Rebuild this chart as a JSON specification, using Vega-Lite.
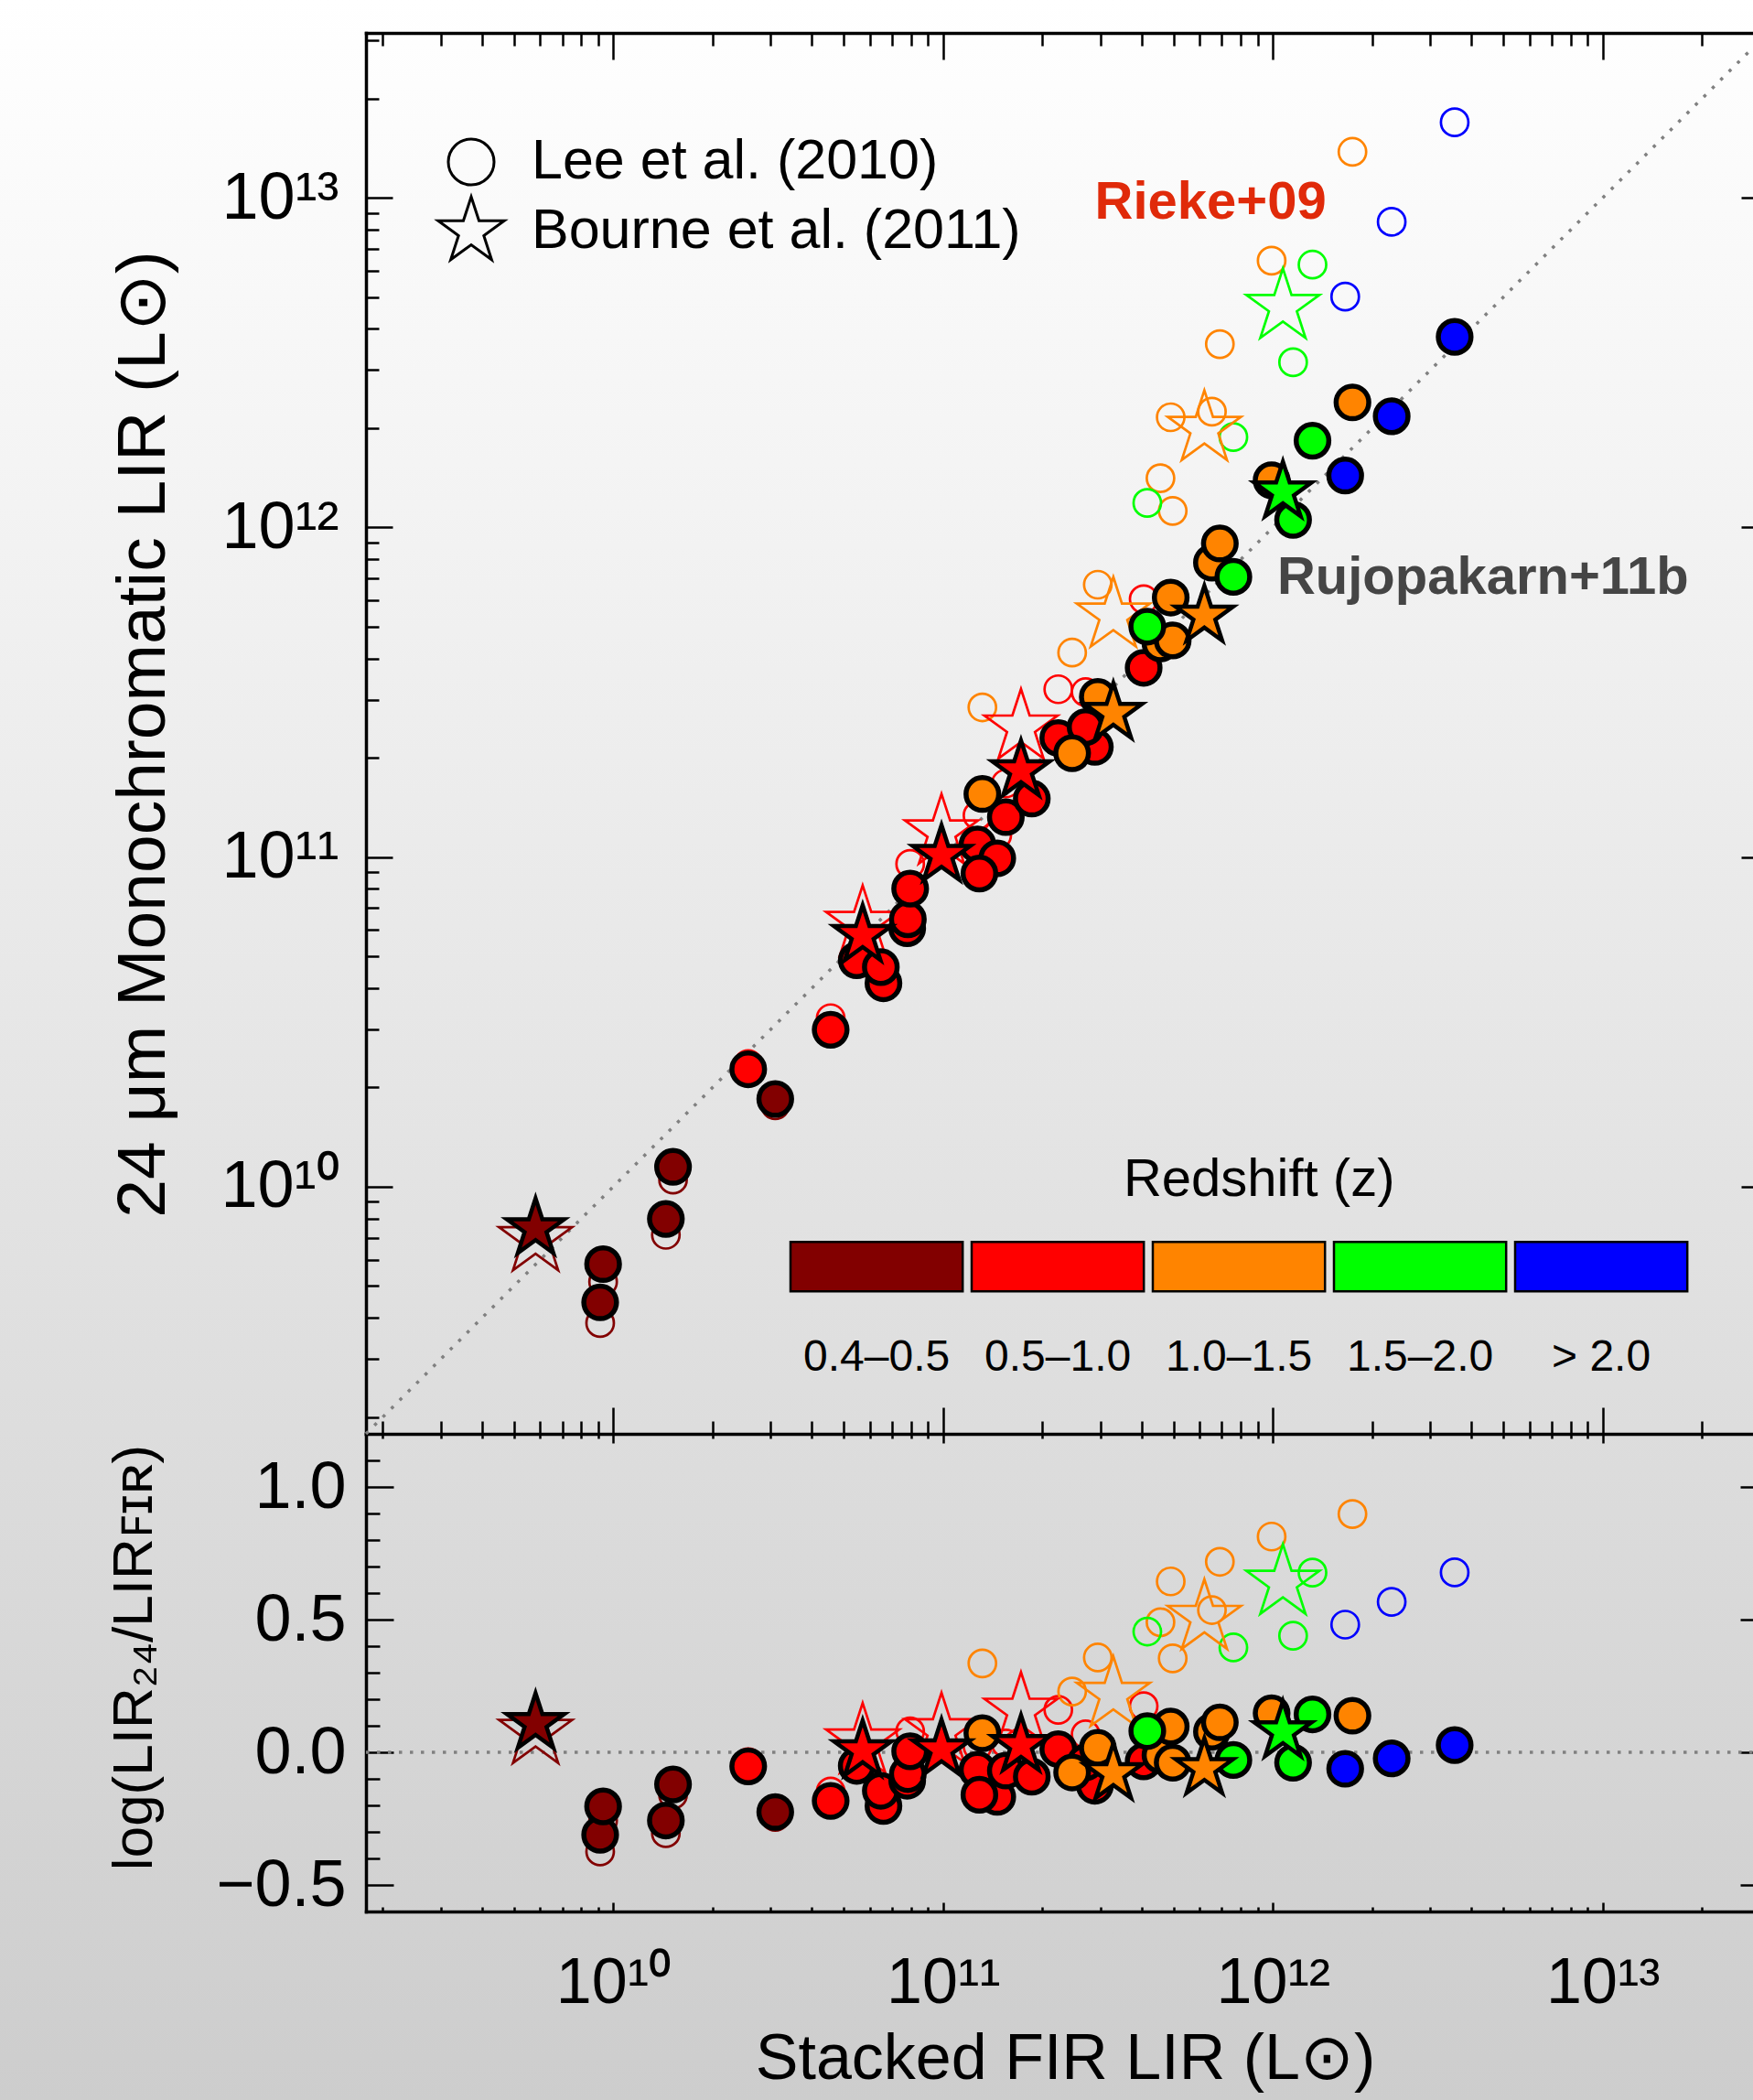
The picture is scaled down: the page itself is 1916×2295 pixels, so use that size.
{
  "$schema": "https://vega.github.io/schema/vega-lite/v6.json",
  "width": 1916,
  "height": 2295,
  "autosize": {"type": "none"},
  "padding": 0,
  "background": "#e4e4e4",
  "view": {"fill": {"gradient": "linear", "x1": 0, "y1": 0, "x2": 0, "y2": 1, "stops": [{"offset": 0, "color": "#ffffff"}, {"offset": 1, "color": "#cdcdcd"}]}, "stroke": null},
  "config": {
    "font": "Liberation Sans",
    "view": {"stroke": null},
    "style": {"guide-label": {"lineHeight": 201}},
    "axis": {"grid": false, "domainColor": "black", "tickColor": "black", "domainWidth": 3.5, "tickWidth": 2.5, "domainCap": "square", "labelColor": "black", "titleColor": "black", "labelFont": "Liberation Sans", "titleFont": "Liberation Sans", "titleFontWeight": "normal", "labelFontSize": 70, "titleFontSize": 64, "labelOverlap": false, "labelFlush": false},
    "legend": {"labelFont": "Liberation Sans", "titleFont": "Liberation Sans", "titleFontWeight": "normal", "labelColor": "black", "titleColor": "black", "labelLimit": 0}
  },
  "datasets": {
    "diag": [{"fir": 1.778e9, "l24": 1.778e9}, {"fir": 3.162e13, "l24": 3.162e13}],
    "zero": [{"fir": 1.778e9, "ratio": 0}, {"fir": 3.162e13, "ratio": 0}],
    "pts": [
      {"study": "Lee et al. (2010)", "fit": "Rieke", "z": "0.4–0.5", "fir": 9.12e9, "l24": 3.855e9, "ratio": -0.374},
      {"study": "Lee et al. (2010)", "fit": "Rieke", "z": "0.4–0.5", "fir": 9.31e9, "l24": 5.14e9, "ratio": -0.258},
      {"study": "Lee et al. (2010)", "fit": "Rieke", "z": "0.4–0.5", "fir": 1.443e10, "l24": 7.14e9, "ratio": -0.305},
      {"study": "Lee et al. (2010)", "fit": "Rieke", "z": "0.4–0.5", "fir": 1.517e10, "l24": 1.05e10, "ratio": -0.16},
      {"study": "Lee et al. (2010)", "fit": "Rieke", "z": "0.4–0.5", "fir": 3.097e10, "l24": 1.766e10, "ratio": -0.244},
      {"study": "Lee et al. (2010)", "fit": "Rieke", "z": "0.5–1.0", "fir": 2.564e10, "l24": 2.355e10, "ratio": -0.037},
      {"study": "Lee et al. (2010)", "fit": "Rieke", "z": "0.5–1.0", "fir": 4.56e10, "l24": 3.243e10, "ratio": -0.148},
      {"study": "Lee et al. (2010)", "fit": "Rieke", "z": "0.5–1.0", "fir": 7.943e10, "l24": 9.528e10, "ratio": 0.079},
      {"study": "Lee et al. (2010)", "fit": "Rieke", "z": "0.5–1.0", "fir": 1.271e11, "l24": 1.337e11, "ratio": 0.022},
      {"study": "Lee et al. (2010)", "fit": "Rieke", "z": "0.5–1.0", "fir": 1.459e11, "l24": 1.164e11, "ratio": -0.098},
      {"study": "Lee et al. (2010)", "fit": "Rieke", "z": "0.5–1.0", "fir": 1.549e11, "l24": 1.671e11, "ratio": 0.033},
      {"study": "Lee et al. (2010)", "fit": "Rieke", "z": "0.5–1.0", "fir": 2.234e11, "l24": 3.228e11, "ratio": 0.16},
      {"study": "Lee et al. (2010)", "fit": "Rieke", "z": "0.5–1.0", "fir": 2.704e11, "l24": 3.162e11, "ratio": 0.068},
      {"study": "Lee et al. (2010)", "fit": "Rieke", "z": "0.5–1.0", "fir": 4.055e11, "l24": 6.054e11, "ratio": 0.174},
      {"study": "Lee et al. (2010)", "fit": "Rieke", "z": "1.0–1.5", "fir": 1.315e11, "l24": 2.844e11, "ratio": 0.335},
      {"study": "Lee et al. (2010)", "fit": "Rieke", "z": "1.0–1.5", "fir": 2.461e11, "l24": 4.169e11, "ratio": 0.229},
      {"study": "Lee et al. (2010)", "fit": "Rieke", "z": "1.0–1.5", "fir": 2.944e11, "l24": 6.699e11, "ratio": 0.357},
      {"study": "Lee et al. (2010)", "fit": "Rieke", "z": "1.0–1.5", "fir": 4.56e11, "l24": 1.41e12, "ratio": 0.49},
      {"study": "Lee et al. (2010)", "fit": "Rieke", "z": "1.0–1.5", "fir": 4.898e11, "l24": 2.158e12, "ratio": 0.644},
      {"study": "Lee et al. (2010)", "fit": "Rieke", "z": "1.0–1.5", "fir": 4.966e11, "l24": 1.122e12, "ratio": 0.354},
      {"study": "Lee et al. (2010)", "fit": "Rieke", "z": "1.0–1.5", "fir": 6.531e11, "l24": 2.244e12, "ratio": 0.536},
      {"study": "Lee et al. (2010)", "fit": "Rieke", "z": "1.0–1.5", "fir": 6.902e11, "l24": 3.597e12, "ratio": 0.718},
      {"study": "Lee et al. (2010)", "fit": "Rieke", "z": "1.0–1.5", "fir": 9.908e11, "l24": 6.442e12, "ratio": 0.813},
      {"study": "Lee et al. (2010)", "fit": "Rieke", "z": "1.0–1.5", "fir": 1.742e12, "l24": 1.378e13, "ratio": 0.898},
      {"study": "Lee et al. (2010)", "fit": "Rieke", "z": "1.5–2.0", "fir": 4.159e11, "l24": 1.186e12, "ratio": 0.455},
      {"study": "Lee et al. (2010)", "fit": "Rieke", "z": "1.5–2.0", "fir": 7.586e11, "l24": 1.879e12, "ratio": 0.395},
      {"study": "Lee et al. (2010)", "fit": "Rieke", "z": "1.5–2.0", "fir": 1.151e12, "l24": 3.169e12, "ratio": 0.439},
      {"study": "Lee et al. (2010)", "fit": "Rieke", "z": "1.5–2.0", "fir": 1.318e12, "l24": 6.267e12, "ratio": 0.677},
      {"study": "Lee et al. (2010)", "fit": "Rieke", "z": "> 2.0", "fir": 1.656e12, "l24": 5.012e12, "ratio": 0.481},
      {"study": "Lee et al. (2010)", "fit": "Rieke", "z": "> 2.0", "fir": 2.291e12, "l24": 8.452e12, "ratio": 0.567},
      {"study": "Lee et al. (2010)", "fit": "Rieke", "z": "> 2.0", "fir": 3.556e12, "l24": 1.694e13, "ratio": 0.678},
      {"study": "Bourne et al. (2011)", "fit": "Rieke", "z": "0.4–0.5", "fir": 5.81e9, "l24": 6.93e9, "ratio": 0.077},
      {"study": "Bourne et al. (2011)", "fit": "Rieke", "z": "0.5–1.0", "fir": 5.701e10, "l24": 6.267e10, "ratio": 0.041},
      {"study": "Bourne et al. (2011)", "fit": "Rieke", "z": "0.5–1.0", "fir": 9.886e10, "l24": 1.188e11, "ratio": 0.08},
      {"study": "Bourne et al. (2011)", "fit": "Rieke", "z": "0.5–1.0", "fir": 1.722e11, "l24": 2.472e11, "ratio": 0.157},
      {"study": "Bourne et al. (2011)", "fit": "Rieke", "z": "1.0–1.5", "fir": 3.281e11, "l24": 5.407e11, "ratio": 0.217},
      {"study": "Bourne et al. (2011)", "fit": "Rieke", "z": "1.0–1.5", "fir": 6.195e11, "l24": 1.99e12, "ratio": 0.507},
      {"study": "Bourne et al. (2011)", "fit": "Rieke", "z": "1.5–2.0", "fir": 1.072e12, "l24": 4.667e12, "ratio": 0.639},
      {"study": "Lee et al. (2010)", "fit": "Rujo", "z": "0.4–0.5", "fir": 9.12e9, "l24": 4.457e9, "ratio": -0.311},
      {"study": "Lee et al. (2010)", "fit": "Rujo", "z": "0.4–0.5", "fir": 9.31e9, "l24": 5.82e9, "ratio": -0.204},
      {"study": "Lee et al. (2010)", "fit": "Rujo", "z": "0.4–0.5", "fir": 1.443e10, "l24": 7.98e9, "ratio": -0.257},
      {"study": "Lee et al. (2010)", "fit": "Rujo", "z": "0.4–0.5", "fir": 1.517e10, "l24": 1.148e10, "ratio": -0.121},
      {"study": "Lee et al. (2010)", "fit": "Rujo", "z": "0.4–0.5", "fir": 3.097e10, "l24": 1.845e10, "ratio": -0.225},
      {"study": "Lee et al. (2010)", "fit": "Rujo", "z": "0.5–1.0", "fir": 2.564e10, "l24": 2.27e10, "ratio": -0.053},
      {"study": "Lee et al. (2010)", "fit": "Rujo", "z": "0.5–1.0", "fir": 4.56e10, "l24": 2.992e10, "ratio": -0.183},
      {"study": "Lee et al. (2010)", "fit": "Rujo", "z": "0.5–1.0", "fir": 5.47e10, "l24": 4.864e10, "ratio": -0.051},
      {"study": "Lee et al. (2010)", "fit": "Rujo", "z": "0.5–1.0", "fir": 6.592e10, "l24": 4.14e10, "ratio": -0.202},
      {"study": "Lee et al. (2010)", "fit": "Rujo", "z": "0.5–1.0", "fir": 6.472e10, "l24": 4.634e10, "ratio": -0.145},
      {"study": "Lee et al. (2010)", "fit": "Rujo", "z": "0.5–1.0", "fir": 7.78e10, "l24": 6.082e10, "ratio": -0.107},
      {"study": "Lee et al. (2010)", "fit": "Rujo", "z": "0.5–1.0", "fir": 7.816e10, "l24": 6.472e10, "ratio": -0.082},
      {"study": "Lee et al. (2010)", "fit": "Rujo", "z": "0.5–1.0", "fir": 7.943e10, "l24": 8.016e10, "ratio": 0.004},
      {"study": "Lee et al. (2010)", "fit": "Rujo", "z": "0.5–1.0", "fir": 1.271e11, "l24": 1.091e11, "ratio": -0.066},
      {"study": "Lee et al. (2010)", "fit": "Rujo", "z": "0.5–1.0", "fir": 1.459e11, "l24": 9.908e10, "ratio": -0.168},
      {"study": "Lee et al. (2010)", "fit": "Rujo", "z": "0.5–1.0", "fir": 1.288e11, "l24": 8.913e10, "ratio": -0.16},
      {"study": "Lee et al. (2010)", "fit": "Rujo", "z": "0.5–1.0", "fir": 1.549e11, "l24": 1.321e11, "ratio": -0.069},
      {"study": "Lee et al. (2010)", "fit": "Rujo", "z": "0.5–1.0", "fir": 1.857e11, "l24": 1.504e11, "ratio": -0.092},
      {"study": "Lee et al. (2010)", "fit": "Rujo", "z": "0.5–1.0", "fir": 2.234e11, "l24": 2.296e11, "ratio": 0.012},
      {"study": "Lee et al. (2010)", "fit": "Rujo", "z": "0.5–1.0", "fir": 2.884e11, "l24": 2.158e11, "ratio": -0.126},
      {"study": "Lee et al. (2010)", "fit": "Rujo", "z": "0.5–1.0", "fir": 2.704e11, "l24": 2.478e11, "ratio": -0.038},
      {"study": "Lee et al. (2010)", "fit": "Rujo", "z": "0.5–1.0", "fir": 4.055e11, "l24": 3.75e11, "ratio": -0.034},
      {"study": "Lee et al. (2010)", "fit": "Rujo", "z": "1.0–1.5", "fir": 1.315e11, "l24": 1.553e11, "ratio": 0.072},
      {"study": "Lee et al. (2010)", "fit": "Rujo", "z": "1.0–1.5", "fir": 2.461e11, "l24": 2.065e11, "ratio": -0.076},
      {"study": "Lee et al. (2010)", "fit": "Rujo", "z": "1.0–1.5", "fir": 2.944e11, "l24": 3.062e11, "ratio": 0.017},
      {"study": "Lee et al. (2010)", "fit": "Rujo", "z": "1.0–1.5", "fir": 4.56e11, "l24": 4.446e11, "ratio": -0.011},
      {"study": "Lee et al. (2010)", "fit": "Rujo", "z": "1.0–1.5", "fir": 4.898e11, "l24": 6.124e11, "ratio": 0.097},
      {"study": "Lee et al. (2010)", "fit": "Rujo", "z": "1.0–1.5", "fir": 4.966e11, "l24": 4.54e11, "ratio": -0.039},
      {"study": "Lee et al. (2010)", "fit": "Rujo", "z": "1.0–1.5", "fir": 6.531e11, "l24": 7.816e11, "ratio": 0.078},
      {"study": "Lee et al. (2010)", "fit": "Rujo", "z": "1.0–1.5", "fir": 6.902e11, "l24": 8.934e11, "ratio": 0.113},
      {"study": "Lee et al. (2010)", "fit": "Rujo", "z": "1.0–1.5", "fir": 9.908e11, "l24": 1.39e12, "ratio": 0.147},
      {"study": "Lee et al. (2010)", "fit": "Rujo", "z": "1.0–1.5", "fir": 1.742e12, "l24": 2.394e12, "ratio": 0.138},
      {"study": "Lee et al. (2010)", "fit": "Rujo", "z": "1.5–2.0", "fir": 4.159e11, "l24": 5.0e11, "ratio": 0.08},
      {"study": "Lee et al. (2010)", "fit": "Rujo", "z": "1.5–2.0", "fir": 7.586e11, "l24": 7.079e11, "ratio": -0.029},
      {"study": "Lee et al. (2010)", "fit": "Rujo", "z": "1.5–2.0", "fir": 1.151e12, "l24": 1.054e12, "ratio": -0.039},
      {"study": "Lee et al. (2010)", "fit": "Rujo", "z": "1.5–2.0", "fir": 1.318e12, "l24": 1.832e12, "ratio": 0.143},
      {"study": "Lee et al. (2010)", "fit": "Rujo", "z": "> 2.0", "fir": 1.656e12, "l24": 1.436e12, "ratio": -0.062},
      {"study": "Lee et al. (2010)", "fit": "Rujo", "z": "> 2.0", "fir": 2.291e12, "l24": 2.173e12, "ratio": -0.023},
      {"study": "Lee et al. (2010)", "fit": "Rujo", "z": "> 2.0", "fir": 3.556e12, "l24": 3.784e12, "ratio": 0.027},
      {"study": "Bourne et al. (2011)", "fit": "Rujo", "z": "0.4–0.5", "fir": 5.81e9, "l24": 7.46e9, "ratio": 0.109},
      {"study": "Bourne et al. (2011)", "fit": "Rujo", "z": "0.5–1.0", "fir": 5.701e10, "l24": 5.781e10, "ratio": 0.006},
      {"study": "Bourne et al. (2011)", "fit": "Rujo", "z": "0.5–1.0", "fir": 9.886e10, "l24": 1.012e11, "ratio": 0.01},
      {"study": "Bourne et al. (2011)", "fit": "Rujo", "z": "0.5–1.0", "fir": 1.722e11, "l24": 1.828e11, "ratio": 0.026},
      {"study": "Bourne et al. (2011)", "fit": "Rujo", "z": "1.0–1.5", "fir": 3.281e11, "l24": 2.729e11, "ratio": -0.08},
      {"study": "Bourne et al. (2011)", "fit": "Rujo", "z": "1.0–1.5", "fir": 6.195e11, "l24": 5.382e11, "ratio": -0.061},
      {"study": "Bourne et al. (2011)", "fit": "Rujo", "z": "1.5–2.0", "fir": 1.072e12, "l24": 1.282e12, "ratio": 0.078}
    ]
  },
  "layer": [
    {
      "layer": [
        {
          "data": {"name": "diag"},
          "mark": {"type": "line", "strokeDash": [3.5, 9.5], "strokeWidth": 3.5, "color": "#808080", "clip": false},
          "encoding": {
            "x": {"field": "fir", "type": "quantitative", "scale": {"type": "log", "domain": [1.778e9, 3.162e13], "range": [400, 1932], "nice": false},
              "axis": {"orient": "top", "offset": -36, "values": [1e10, 1e11, 1e12, 1e13], "labels": false, "ticks": true, "domain": true, "tickSize": -29, "title": null}},
            "y": {"field": "l24", "type": "quantitative", "scale": {"type": "log", "domain": [1.778e9, 3.162e13], "range": [1567, 36], "nice": false},
              "axis": {"orient": "left", "offset": -400, "values": [1e10, 1e11, 1e12, 1e13], "labelExpr": "datum.value < 3e10 ? '10¹⁰' : datum.value < 3e11 ? '10¹¹' : datum.value < 3e12 ? '10¹²' : '10¹³'", "ticks": true, "domain": true, "tickSize": -29, "labelPadding": 59, "labelFontSize": 72, "labelBaseline": "middle", "title": "24 μm Monochromatic LIR (L⊙)", "titleX": -244, "titleY": 802, "titleAngle": -90, "titleAlign": "center", "titleBaseline": "middle", "titleFontSize": 75}}
          }
        },
        {
          "data": {"name": "pts"},
          "transform": [{"filter": "datum.study == 'Lee et al. (2010)' && datum.fit == 'Rieke'"}],
          "mark": {"type": "point", "filled": false, "size": 2079, "strokeWidth": 2.7, "opacity": 1},
          "encoding": {
            "x": {"field": "fir", "type": "quantitative", "scale": {"type": "log", "domain": [1.778e9, 3.162e13], "range": [400, 1932], "nice": false},
              "axis": {"orient": "top", "offset": -36, "values": [2e9, 3e9, 4e9, 5e9, 6e9, 7e9, 8e9, 9e9, 2e10, 3e10, 4e10, 5e10, 6e10, 7e10, 8e10, 9e10, 2e11, 3e11, 4e11, 5e11, 6e11, 7e11, 8e11, 9e11, 2e12, 3e12, 4e12, 5e12, 6e12, 7e12, 8e12, 9e12, 2e13, 3e13], "labels": false, "ticks": true, "domain": false, "tickSize": -14, "title": null}},
            "y": {"field": "l24", "type": "quantitative", "scale": {"type": "log", "domain": [1.778e9, 3.162e13], "range": [1567, 36], "nice": false},
              "axis": {"orient": "left", "offset": -400, "values": [2e9, 3e9, 4e9, 5e9, 6e9, 7e9, 8e9, 9e9, 2e10, 3e10, 4e10, 5e10, 6e10, 7e10, 8e10, 9e10, 2e11, 3e11, 4e11, 5e11, 6e11, 7e11, 8e11, 9e11, 2e12, 3e12, 4e12, 5e12, 6e12, 7e12, 8e12, 9e12, 2e13, 3e13], "labels": false, "ticks": true, "domain": false, "tickSize": -14, "title": null}},
            "stroke": {"field": "z", "type": "nominal", "scale": {"range": ["#820000", "#ff0000", "#ff8400", "#00ff00", "#0000ff"]}, "legend": null},
            "shape": {"field": "study", "type": "nominal", "scale": {"domain": ["Lee et al. (2010)", "Bourne et al. (2011)"], "range": ["M0.658,0A0.658,0.658,0,1,1,-0.658,0A0.658,0.658,0,1,1,0.658,0Z", "M0,-1L0.2245,-0.309L0.9511,-0.309L0.3633,0.118L0.5878,0.809L0,0.382L-0.5878,0.809L-0.3633,0.118L-0.9511,-0.309L-0.2245,-0.309Z"]},
              "legend": {"orient": "none", "legendX": 475.5, "legendY": 137.5, "title": null, "direction": "vertical", "symbolSize": 5776, "symbolStrokeWidth": 3, "symbolStrokeColor": "black", "symbolFillColor": "transparent", "symbolOpacity": 1, "labelFontSize": 61, "labelBaseline": "middle", "labelOffset": 26.5, "rowPadding": 0, "padding": 0}}
          }
        },
        {
          "data": {"name": "pts"},
          "transform": [{"filter": "datum.study == 'Bourne et al. (2011)' && datum.fit == 'Rieke'"}],
          "mark": {"type": "point", "filled": false, "size": 7056, "strokeWidth": 2.7, "opacity": 1, "strokeJoin": "miter"},
          "encoding": {
            "x": {"field": "fir", "type": "quantitative", "scale": {"type": "log", "domain": [1.778e9, 3.162e13], "range": [400, 1932], "nice": false},
              "axis": {"orient": "bottom", "offset": -728, "values": [1e10, 1e11, 1e12, 1e13], "labels": false, "ticks": true, "domain": true, "tickSize": -29, "title": null}},
            "y": {"field": "l24", "type": "quantitative", "scale": {"type": "log", "domain": [1.778e9, 3.162e13], "range": [1567, 36], "nice": false},
              "axis": {"orient": "right", "offset": 16, "values": [1e10, 1e11, 1e12, 1e13], "labels": false, "ticks": true, "domain": true, "tickSize": -29, "title": null}},
            "stroke": {"field": "z", "type": "nominal", "scale": {"range": ["#820000", "#ff0000", "#ff8400", "#00ff00", "#0000ff"]}, "legend": null},
            "shape": {"field": "study", "type": "nominal", "scale": {"domain": ["Lee et al. (2010)", "Bourne et al. (2011)"], "range": ["M0.658,0A0.658,0.658,0,1,1,-0.658,0A0.658,0.658,0,1,1,0.658,0Z", "M0,-1L0.2245,-0.309L0.9511,-0.309L0.3633,0.118L0.5878,0.809L0,0.382L-0.5878,0.809L-0.3633,0.118L-0.9511,-0.309L-0.2245,-0.309Z"]}, "legend": null}
          }
        },
        {
          "data": {"name": "pts"},
          "transform": [{"filter": "datum.study == 'Lee et al. (2010)' && datum.fit == 'Rujo'"}],
          "mark": {"type": "point", "filled": true, "size": 2944, "stroke": "black", "strokeWidth": 5.5, "opacity": 1},
          "encoding": {
            "x": {"field": "fir", "type": "quantitative", "scale": {"type": "log", "domain": [1.778e9, 3.162e13], "range": [400, 1932], "nice": false},
              "axis": {"orient": "bottom", "offset": -728, "values": [2e9, 3e9, 4e9, 5e9, 6e9, 7e9, 8e9, 9e9, 2e10, 3e10, 4e10, 5e10, 6e10, 7e10, 8e10, 9e10, 2e11, 3e11, 4e11, 5e11, 6e11, 7e11, 8e11, 9e11, 2e12, 3e12, 4e12, 5e12, 6e12, 7e12, 8e12, 9e12, 2e13, 3e13], "labels": false, "ticks": true, "domain": false, "tickSize": -14, "title": null}},
            "y": {"field": "l24", "type": "quantitative", "scale": {"type": "log", "domain": [1.778e9, 3.162e13], "range": [1567, 36], "nice": false},
              "axis": {"orient": "right", "offset": 16, "values": [2e9, 3e9, 4e9, 5e9, 6e9, 7e9, 8e9, 9e9, 2e10, 3e10, 4e10, 5e10, 6e10, 7e10, 8e10, 9e10, 2e11, 3e11, 4e11, 5e11, 6e11, 7e11, 8e11, 9e11, 2e12, 3e12, 4e12, 5e12, 6e12, 7e12, 8e12, 9e12, 2e13, 3e13], "labels": false, "ticks": true, "domain": false, "tickSize": -14, "title": null}},
            "fill": {"field": "z", "type": "nominal", "scale": {"range": ["#820000", "#ff0000", "#ff8400", "#00ff00", "#0000ff"]},
              "legend": {"orient": "none", "legendX": 863.6, "legendY": 1289.5, "direction": "horizontal", "title": null, "symbolType": "M-1.014,-0.291H1.014V0.291H-1.014Z", "symbolSize": 34447, "symbolStrokeWidth": 2.5, "symbolStrokeColor": "black", "symbolOpacity": 1, "columnPadding": -1, "labelAlign": "center", "labelBaseline": "line-top", "labelOffset": -94.5, "labelFontSize": 48, "padding": 0}},
            "shape": {"field": "study", "type": "nominal", "scale": {"domain": ["Lee et al. (2010)", "Bourne et al. (2011)"], "range": ["M0.658,0A0.658,0.658,0,1,1,-0.658,0A0.658,0.658,0,1,1,0.658,0Z", "M0,-1L0.2245,-0.309L0.9511,-0.309L0.3633,0.118L0.5878,0.809L0,0.382L-0.5878,0.809L-0.3633,0.118L-0.9511,-0.309L-0.2245,-0.309Z"]}, "legend": null}
          }
        },
        {
          "data": {"name": "pts"},
          "transform": [{"filter": "datum.study == 'Bourne et al. (2011)' && datum.fit == 'Rujo'"}],
          "mark": {"type": "point", "filled": true, "size": 4356, "stroke": "black", "strokeWidth": 4.5, "opacity": 1, "strokeJoin": "miter"},
          "encoding": {
            "x": {"field": "fir", "type": "quantitative", "scale": {"type": "log", "domain": [1.778e9, 3.162e13], "range": [400, 1932], "nice": false}, "axis": null},
            "y": {"field": "l24", "type": "quantitative", "scale": {"type": "log", "domain": [1.778e9, 3.162e13], "range": [1567, 36], "nice": false}, "axis": null},
            "fill": {"field": "z", "type": "nominal", "scale": {"range": ["#820000", "#ff0000", "#ff8400", "#00ff00", "#0000ff"]}, "legend": null},
            "shape": {"field": "study", "type": "nominal", "scale": {"domain": ["Lee et al. (2010)", "Bourne et al. (2011)"], "range": ["M0.658,0A0.658,0.658,0,1,1,-0.658,0A0.658,0.658,0,1,1,0.658,0Z", "M0,-1L0.2245,-0.309L0.9511,-0.309L0.3633,0.118L0.5878,0.809L0,0.382L-0.5878,0.809L-0.3633,0.118L-0.9511,-0.309L-0.2245,-0.309Z"]}, "legend": null}
          }
        },
        {
          "data": {"values": [{"label": "Rieke+09"}]},
          "mark": {"type": "text", "font": "Liberation Sans", "fontWeight": "bold", "fontSize": 58, "color": "#e02a0a", "align": "center", "baseline": "middle"},
          "encoding": {
            "x": {"datum": 6.47e11, "type": "quantitative", "scale": {"type": "log", "domain": [1.778e9, 3.162e13], "range": [400, 1932], "nice": false}, "axis": null},
            "y": {"datum": 9.6e12, "type": "quantitative", "scale": {"type": "log", "domain": [1.778e9, 3.162e13], "range": [1567, 36], "nice": false}, "axis": null},
            "text": {"field": "label"}
          }
        },
        {
          "data": {"values": [{"label": "Rujopakarn+11b"}]},
          "mark": {"type": "text", "font": "Liberation Sans", "fontWeight": "bold", "fontSize": 58, "color": "#454545", "align": "center", "baseline": "middle"},
          "encoding": {
            "x": {"datum": 4.33e12, "type": "quantitative", "scale": {"type": "log", "domain": [1.778e9, 3.162e13], "range": [400, 1932], "nice": false}, "axis": null},
            "y": {"datum": 7.02e11, "type": "quantitative", "scale": {"type": "log", "domain": [1.778e9, 3.162e13], "range": [1567, 36], "nice": false}, "axis": null},
            "text": {"field": "label"}
          }
        },
        {
          "data": {"values": [{"label": "Redshift (z)"}]},
          "mark": {"type": "text", "font": "Liberation Sans", "fontSize": 58, "color": "black", "align": "center", "baseline": "middle"},
          "encoding": {
            "x": {"datum": 9.08e11, "type": "quantitative", "scale": {"type": "log", "domain": [1.778e9, 3.162e13], "range": [400, 1932], "nice": false}, "axis": null},
            "y": {"datum": 1.042e10, "type": "quantitative", "scale": {"type": "log", "domain": [1.778e9, 3.162e13], "range": [1567, 36], "nice": false}, "axis": null},
            "text": {"field": "label"}
          }
        }
      ],
      "resolve": {"axis": {"x": "independent", "y": "independent"}}
    },
    {
      "layer": [
        {
          "data": {"name": "zero"},
          "mark": {"type": "line", "strokeDash": [3.5, 8.5], "strokeWidth": 3.5, "color": "#808080", "clip": false},
          "encoding": {
            "x": {"field": "fir", "type": "quantitative", "scale": {"type": "log", "domain": [1.778e9, 3.162e13], "range": [400, 1932], "nice": false},
              "axis": {"orient": "bottom", "offset": -206, "values": [1e10, 1e11, 1e12, 1e13], "labelExpr": "datum.value < 3e10 ? '10¹⁰' : datum.value < 3e11 ? '10¹¹' : datum.value < 3e12 ? '10¹²' : '10¹³'", "ticks": true, "domain": true, "tickSize": -10, "labelPadding": 54, "labelFontSize": 70, "labelBaseline": "top", "title": "Stacked FIR LIR (L⊙)", "titleX": 1164, "titleY": 161, "titleAlign": "center", "titleBaseline": "middle", "titleFontSize": 70}},
            "y": {"field": "ratio", "type": "quantitative", "scale": {"type": "linear", "domain": [-0.6, 1.2], "range": [2089, 1567], "nice": false, "zero": false},
              "axis": {"orient": "left", "offset": -400, "values": [-0.5, 0, 0.5, 1], "labelExpr": "datum.value < 0 ? '−' + format(-datum.value, '.1f') : format(datum.value, '.1f')", "ticks": true, "domain": true, "tickSize": -30, "labelPadding": 52, "labelFontSize": 72, "labelBaseline": "middle", "title": "log(LIR₂₄/LIRꜰɪʀ)", "titleX": -254, "titleY": 1811, "titleAngle": -90, "titleAlign": "center", "titleBaseline": "middle", "titleFontSize": 62}}
          }
        },
        {
          "data": {"name": "pts"},
          "transform": [{"filter": "datum.study == 'Lee et al. (2010)' && datum.fit == 'Rieke'"}],
          "mark": {"type": "point", "filled": false, "size": 2079, "strokeWidth": 2.7, "opacity": 1},
          "encoding": {
            "x": {"field": "fir", "type": "quantitative", "scale": {"type": "log", "domain": [1.778e9, 3.162e13], "range": [400, 1932], "nice": false},
              "axis": {"orient": "bottom", "offset": -206, "values": [2e9, 3e9, 4e9, 5e9, 6e9, 7e9, 8e9, 9e9, 2e10, 3e10, 4e10, 5e10, 6e10, 7e10, 8e10, 9e10, 2e11, 3e11, 4e11, 5e11, 6e11, 7e11, 8e11, 9e11, 2e12, 3e12, 4e12, 5e12, 6e12, 7e12, 8e12, 9e12, 2e13, 3e13], "labels": false, "ticks": true, "domain": false, "tickSize": -5, "title": null}},
            "y": {"field": "ratio", "type": "quantitative", "scale": {"type": "linear", "domain": [-0.6, 1.2], "range": [2089, 1567], "nice": false, "zero": false},
              "axis": {"orient": "left", "offset": -400, "values": [-0.4, -0.3, -0.2, -0.1, 0.1, 0.2, 0.3, 0.4, 0.6, 0.7, 0.8, 0.9, 1.1], "labels": false, "ticks": true, "domain": false, "tickSize": -15, "title": null}},
            "stroke": {"field": "z", "type": "nominal", "scale": {"range": ["#820000", "#ff0000", "#ff8400", "#00ff00", "#0000ff"]}, "legend": null},
            "shape": {"field": "study", "type": "nominal", "scale": {"domain": ["Lee et al. (2010)", "Bourne et al. (2011)"], "range": ["M0.658,0A0.658,0.658,0,1,1,-0.658,0A0.658,0.658,0,1,1,0.658,0Z", "M0,-1L0.2245,-0.309L0.9511,-0.309L0.3633,0.118L0.5878,0.809L0,0.382L-0.5878,0.809L-0.3633,0.118L-0.9511,-0.309L-0.2245,-0.309Z"]}, "legend": null}
          }
        },
        {
          "data": {"name": "pts"},
          "transform": [{"filter": "datum.study == 'Bourne et al. (2011)' && datum.fit == 'Rieke'"}],
          "mark": {"type": "point", "filled": false, "size": 7056, "strokeWidth": 2.7, "opacity": 1, "strokeJoin": "miter"},
          "encoding": {
            "x": {"field": "fir", "type": "quantitative", "scale": {"type": "log", "domain": [1.778e9, 3.162e13], "range": [400, 1932], "nice": false},
              "axis": {"orient": "top", "offset": -1567, "values": [1e10, 1e11, 1e12, 1e13], "labels": false, "ticks": true, "domain": false, "tickSize": -10, "title": null}},
            "y": {"field": "ratio", "type": "quantitative", "scale": {"type": "linear", "domain": [-0.6, 1.2], "range": [2089, 1567], "nice": false, "zero": false},
              "axis": {"orient": "right", "offset": 16, "values": [-0.5, 0, 0.5, 1], "labels": false, "ticks": true, "domain": true, "tickSize": -30, "title": null}},
            "stroke": {"field": "z", "type": "nominal", "scale": {"range": ["#820000", "#ff0000", "#ff8400", "#00ff00", "#0000ff"]}, "legend": null},
            "shape": {"field": "study", "type": "nominal", "scale": {"domain": ["Lee et al. (2010)", "Bourne et al. (2011)"], "range": ["M0.658,0A0.658,0.658,0,1,1,-0.658,0A0.658,0.658,0,1,1,0.658,0Z", "M0,-1L0.2245,-0.309L0.9511,-0.309L0.3633,0.118L0.5878,0.809L0,0.382L-0.5878,0.809L-0.3633,0.118L-0.9511,-0.309L-0.2245,-0.309Z"]}, "legend": null}
          }
        },
        {
          "data": {"name": "pts"},
          "transform": [{"filter": "datum.study == 'Lee et al. (2010)' && datum.fit == 'Rujo'"}],
          "mark": {"type": "point", "filled": true, "size": 2944, "stroke": "black", "strokeWidth": 5.5, "opacity": 1},
          "encoding": {
            "x": {"field": "fir", "type": "quantitative", "scale": {"type": "log", "domain": [1.778e9, 3.162e13], "range": [400, 1932], "nice": false},
              "axis": {"orient": "top", "offset": -1567, "values": [2e9, 3e9, 4e9, 5e9, 6e9, 7e9, 8e9, 9e9, 2e10, 3e10, 4e10, 5e10, 6e10, 7e10, 8e10, 9e10, 2e11, 3e11, 4e11, 5e11, 6e11, 7e11, 8e11, 9e11, 2e12, 3e12, 4e12, 5e12, 6e12, 7e12, 8e12, 9e12, 2e13, 3e13], "labels": false, "ticks": true, "domain": false, "tickSize": -5, "title": null}},
            "y": {"field": "ratio", "type": "quantitative", "scale": {"type": "linear", "domain": [-0.6, 1.2], "range": [2089, 1567], "nice": false, "zero": false},
              "axis": {"orient": "right", "offset": 16, "values": [-0.4, -0.3, -0.2, -0.1, 0.1, 0.2, 0.3, 0.4, 0.6, 0.7, 0.8, 0.9, 1.1], "labels": false, "ticks": true, "domain": false, "tickSize": -15, "title": null}},
            "fill": {"field": "z", "type": "nominal", "scale": {"range": ["#820000", "#ff0000", "#ff8400", "#00ff00", "#0000ff"]}, "legend": null},
            "shape": {"field": "study", "type": "nominal", "scale": {"domain": ["Lee et al. (2010)", "Bourne et al. (2011)"], "range": ["M0.658,0A0.658,0.658,0,1,1,-0.658,0A0.658,0.658,0,1,1,0.658,0Z", "M0,-1L0.2245,-0.309L0.9511,-0.309L0.3633,0.118L0.5878,0.809L0,0.382L-0.5878,0.809L-0.3633,0.118L-0.9511,-0.309L-0.2245,-0.309Z"]}, "legend": null}
          }
        },
        {
          "data": {"name": "pts"},
          "transform": [{"filter": "datum.study == 'Bourne et al. (2011)' && datum.fit == 'Rujo'"}],
          "mark": {"type": "point", "filled": true, "size": 4356, "stroke": "black", "strokeWidth": 4.5, "opacity": 1, "strokeJoin": "miter"},
          "encoding": {
            "x": {"field": "fir", "type": "quantitative", "scale": {"type": "log", "domain": [1.778e9, 3.162e13], "range": [400, 1932], "nice": false}, "axis": null},
            "y": {"field": "ratio", "type": "quantitative", "scale": {"type": "linear", "domain": [-0.6, 1.2], "range": [2089, 1567], "nice": false, "zero": false}, "axis": null},
            "fill": {"field": "z", "type": "nominal", "scale": {"range": ["#820000", "#ff0000", "#ff8400", "#00ff00", "#0000ff"]}, "legend": null},
            "shape": {"field": "study", "type": "nominal", "scale": {"domain": ["Lee et al. (2010)", "Bourne et al. (2011)"], "range": ["M0.658,0A0.658,0.658,0,1,1,-0.658,0A0.658,0.658,0,1,1,0.658,0Z", "M0,-1L0.2245,-0.309L0.9511,-0.309L0.3633,0.118L0.5878,0.809L0,0.382L-0.5878,0.809L-0.3633,0.118L-0.9511,-0.309L-0.2245,-0.309Z"]}, "legend": null}
          }
        }
      ],
      "resolve": {"axis": {"x": "independent", "y": "independent"}}
    }
  ],
  "resolve": {"scale": {"y": "independent"}, "axis": {"x": "independent", "y": "independent"}}
}
